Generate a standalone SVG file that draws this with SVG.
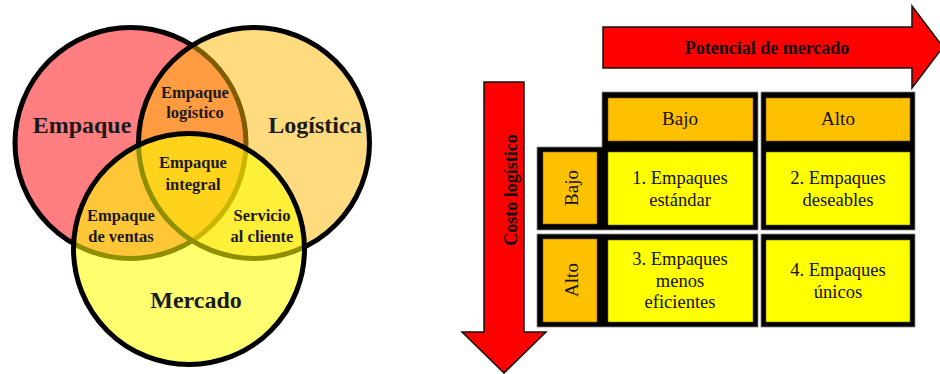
<svg xmlns="http://www.w3.org/2000/svg" width="940" height="374" viewBox="0 0 940 374">
<style>
.c{stroke:#000;stroke-width:5}
.vb{font-family:"Liberation Serif","Times New Roman",serif;font-weight:bold;fill:#1a1a1a;text-anchor:middle}
.big{font-size:24px}
.sm{font-size:16.5px}
.arr{fill:#FF0000;stroke:#111;stroke-width:1.5;stroke-linejoin:miter}
.at{font-family:"Liberation Serif","Times New Roman",serif;font-weight:bold;font-size:18px;fill:#111;text-anchor:middle}
.blk{fill:#000;stroke:#888;stroke-width:0.8}
.or{fill:#FFC000;stroke:#7a5a00;stroke-width:0.6}
.ye{fill:#FFFF00;stroke:#6a6a00;stroke-width:0.6}
.t{font-family:"Liberation Serif","Times New Roman",serif;font-size:18.5px;fill:#111;text-anchor:middle}
</style>
<g id="venn">
  <g id="empaque"><circle class="c" cx="130.5" cy="143" r="115.5" fill="#FF7F80"/></g>
  <g id="logistica"><circle class="c" cx="254" cy="143" r="115.5" fill="#FFB700" fill-opacity="0.5"/></g>
  <g id="mercado"><circle class="c" cx="189" cy="249" r="115.5" fill="#FFFF00" fill-opacity="0.56"/></g>
  <g id="venn-labels">
    <text class="vb big" x="82" y="133">Empaque</text>
    <text class="vb big" x="315" y="133">Logística</text>
    <text class="vb big" x="196" y="308">Mercado</text>
    <text class="vb sm" x="195" y="98">Empaque</text>
    <text class="vb sm" x="195" y="118">logístico</text>
    <text class="vb sm" x="193" y="168">Empaque</text>
    <text class="vb sm" x="193" y="190">integral</text>
    <text class="vb sm" x="121" y="221">Empaque</text>
    <text class="vb sm" x="121" y="242">de ventas</text>
    <text class="vb sm" x="262" y="221">Servicio</text>
    <text class="vb sm" x="262" y="242">al cliente</text>
  </g>
</g>
<g id="connectors">
  <g id="arrow-potencial">
    <polygon class="arr" points="603,27 912,27 912,6 943,47 912,88 912,68 603,68"/>
    <text class="at" x="767" y="54">Potencial de mercado</text>
  </g>
  <g id="arrow-costo">
    <polygon class="arr" points="484,82 524,82 524,332 546,332 504,373 462,332 484,332"/>
    <text class="at" transform="translate(517,190) rotate(-90)" x="0" y="0">Costo logístico</text>
  </g>
</g>
<g id="matrix">
  <polygon class="blk" points="602,92 758,92 758,230 537,230 537,147 602,147"/>
  <rect class="blk" x="761" y="92" width="154" height="138"/>
  <rect class="blk" x="537" y="234" width="221" height="93"/>
  <rect class="blk" x="761" y="234" width="154" height="93"/>
  <g id="h-bajo"><rect class="or" x="608" y="98" width="145" height="43"/><text class="t" style="font-size:19px" x="680" y="125">Bajo</text></g>
  <g id="h-alto"><rect class="or" x="766" y="98" width="144" height="43"/><text class="t" style="font-size:19px" x="838" y="125">Alto</text></g>
  <g id="r-bajo"><rect class="or" x="543" y="152" width="54" height="72"/><text class="t" style="font-size:19px" transform="translate(578,188) rotate(-90)" x="0" y="0">Bajo</text></g>
  <g id="r-alto"><rect class="or" x="543" y="239" width="54" height="83"/><text class="t" style="font-size:19px" transform="translate(578,280) rotate(-90)" x="0" y="0">Alto</text></g>
  <g id="cell1"><rect class="ye" x="608" y="152" width="145" height="73"/><text class="t" x="680" y="184">1. Empaques</text><text class="t" x="680" y="206">estándar</text></g>
  <g id="cell2"><rect class="ye" x="766" y="152" width="144" height="73"/><text class="t" x="838" y="184">2. Empaques</text><text class="t" x="838" y="206">deseables</text></g>
  <g id="cell3"><rect class="ye" x="608" y="240" width="145" height="82"/><text class="t" x="680" y="265">3. Empaques</text><text class="t" x="680" y="287">menos</text><text class="t" x="680" y="308">eficientes</text></g>
  <g id="cell4"><rect class="ye" x="766" y="240" width="144" height="82"/><text class="t" x="838" y="276">4. Empaques</text><text class="t" x="838" y="298">únicos</text></g>
</g>
</svg>
